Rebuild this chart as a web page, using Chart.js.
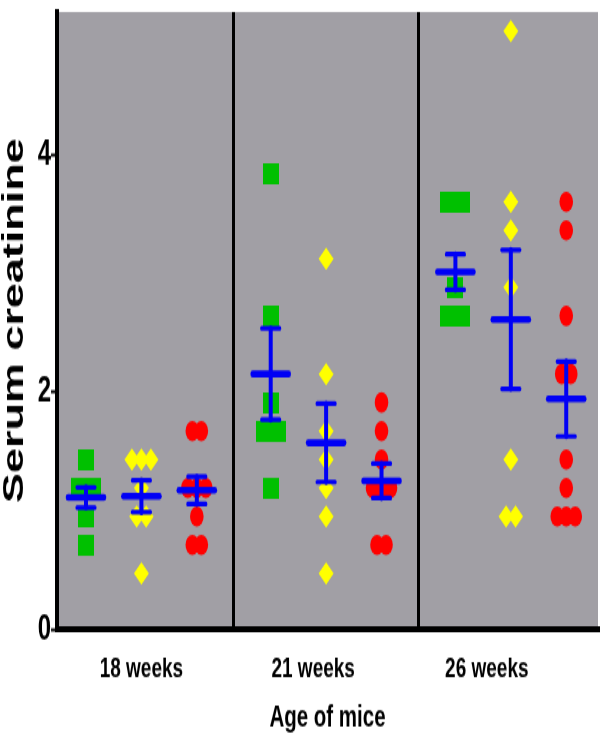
<!DOCTYPE html>
<html>
<head>
<meta charset="utf-8">
<script src="https://cdn.jsdelivr.net/npm/chart.js@4/dist/chart.umd.min.js"></script>
<style>
  html, body { margin: 0; padding: 0; background: #fff; }
</style>
</head>
<body>
<!-- the original figure is stretched vertically, so the canvas is drawn at 600x500 and shown at 600x749 -->
<canvas id="chart" width="600" height="500" style="display:block;width:600px;height:749px"></canvas>
<script>
var weeks = ['18 weeks', '21 weeks', '26 weeks'];

var greenValues = [
    [1.43, 1.19, 1.19, 0.95, 0.71],
    [3.84, 2.64, 1.91, 1.67, 1.67, 1.19],
    [3.60, 3.60, 2.88, 2.64, 2.64]
];
var yellowValues = [
    [1.43, 1.43, 1.43, 1.19, 0.95, 0.95, 0.47],
    [3.12, 2.15, 1.67, 1.43, 1.19, 0.95, 0.47],
    [5.04, 3.60, 3.36, 2.88, 1.43, 0.95, 0.95]
];
var redValues = [
    [1.67, 1.67, 1.19, 1.19, 1.19, 0.95, 0.71, 0.71],
    [1.91, 1.67, 1.43, 1.19, 1.19, 1.19, 0.71, 0.71],
    [3.60, 3.36, 2.64, 2.15, 2.15, 1.43, 1.19, 0.95, 0.95, 0.95]
];

// mean and SEM drawn in blue
var greenMean = [1.11, 2.15, 3.01];
var greenSem = [0.085, 0.385, 0.15];
var yellowMean = [1.12, 1.57, 2.61];
var yellowSem = [0.135, 0.33, 0.585];
var redMean = [1.17, 1.25, 1.94];
var redSem = [0.115, 0.145, 0.315];

var yTicks = [0, 2, 4];

// x layout: group g, column c sits at g + c*colGap
var colGap = 0.3;
var sepPos = 0.8;
var labelAt = [0.3, 1.23, 2.17];
var xMin = -0.157, xMax = 2.772;
var pxPerUnit = 541 / (xMax - xMin);

function jitter(values, stepPx) {
    var counts = {}, seen = {};
    values.forEach(function (v) { counts[v] = (counts[v] || 0) + 1; });
    return values.map(function (v) {
        seen[v] = seen[v] === undefined ? 0 : seen[v] + 1;
        return (seen[v] - (counts[v] - 1) / 2) * stepPx / pxPerUnit;
    });
}

function points(groups, col, stepPx) {
    var out = [];
    groups.forEach(function (vals, g) {
        var off = jitter(vals, stepPx);
        vals.forEach(function (v, i) {
            out.push({x: g + col * colGap + off[i], y: v});
        });
    });
    return out;
}

function box(w, h, color) {
    var c = document.createElement('canvas');
    c.width = w; c.height = h;
    var g = c.getContext('2d');
    g.fillStyle = color;
    g.fillRect(0, 0, w, h);
    return c;
}

var plotBg = {
    id: 'plotBg',
    beforeDraw: function (chart) {
        var a = chart.chartArea, ctx = chart.ctx;
        ctx.save();
        ctx.fillStyle = '#a19fa5';
        ctx.fillRect(a.left, a.top, a.right - a.left, a.bottom - a.top);
        ctx.restore();
    }
};

var meanSem = {
    id: 'meanSem',
    afterDatasetsDraw: function (chart) {
        var xs = chart.scales.x, ys = chart.scales.y, ctx = chart.ctx;
        var sets = [[greenMean, greenSem], [yellowMean, yellowSem], [redMean, redSem]];
        ctx.save();
        ctx.strokeStyle = '#0000f5';
        ctx.lineCap = 'round';
        sets.forEach(function (s, col) {
            s[0].forEach(function (m, g) {
                var x = xs.getPixelForValue(g + col * colGap);
                var ym = ys.getPixelForValue(m);
                var yt = ys.getPixelForValue(m + s[1][g]);
                var yb = ys.getPixelForValue(m - s[1][g]);
                ctx.lineWidth = 4;
                ctx.beginPath(); ctx.moveTo(x, yt); ctx.lineTo(x, yb); ctx.stroke();
                ctx.lineWidth = 3.2;
                ctx.beginPath();
                ctx.moveTo(x - 9, yt); ctx.lineTo(x + 9, yt);
                ctx.moveTo(x - 9, yb); ctx.lineTo(x + 9, yb);
                ctx.stroke();
                ctx.lineWidth = 4.6;
                ctx.beginPath(); ctx.moveTo(x - 18, ym); ctx.lineTo(x + 18, ym); ctx.stroke();
            });
        });
        ctx.restore();
    }
};

var font = "'Liberation Sans', Arial, sans-serif";

new Chart(document.getElementById('chart'), {
    type: 'scatter',
    data: {
        datasets: [{
            data: points(greenValues, 0, 14),
            pointStyle: box(16, 14, '#00c000'),
            pointRadius: 8,
            borderWidth: 0
        }, {
            data: points(yellowValues, 1, 9.5),
            pointStyle: 'rectRot',
            pointRadius: 7.5,
            backgroundColor: '#ffff00',
            borderWidth: 0
        }, {
            data: points(redValues, 2, 9),
            pointStyle: 'circle',
            pointRadius: 6.8,
            backgroundColor: '#ff0000',
            borderWidth: 0
        }]
    },
    options: {
        responsive: false,
        animation: false,
        devicePixelRatio: 1,
        events: [],
        layout: {
            autoPadding: false,
            padding: { top: 8, right: 2, left: 0, bottom: 0 }
        },
        plugins: {
            legend: { display: false },
            tooltip: { enabled: false }
        },
        scales: {
            x: {
                type: 'linear',
                min: xMin,
                max: xMax,
                afterFit: function (s) {
                    s.height = 80;
                    s.paddingLeft = 0;
                    s.paddingRight = 0;
                },
                afterBuildTicks: function (s) {
                    var t = [];
                    weeks.forEach(function (w, g) {
                        t.push({value: labelAt[g]});
                        if (g < weeks.length - 1) t.push({value: g + sepPos});
                    });
                    s.ticks = t;
                },
                ticks: {
                    autoSkip: false,
                    maxRotation: 0,
                    padding: 15,
                    color: '#000',
                    font: { family: font, size: 19, weight: 'bold' },
                    callback: function (v, i) { return i % 2 === 0 ? weeks[i / 2] : ''; }
                },
                grid: {
                    drawTicks: false,
                    lineWidth: 3,
                    color: function (c) { return c.index % 2 === 1 ? '#000' : 'rgba(0,0,0,0)'; }
                },
                border: { display: true, color: '#000', width: 4 },
                title: {
                    display: true,
                    text: 'Age of mice',
                    color: '#000',
                    font: { family: font, size: 20.5, weight: 'bold' },
                    padding: { top: 0, bottom: 8 }
                }
            },
            y: {
                min: 0,
                max: 5.2,
                afterFit: function (s) {
                    s.width = 57;
                    s.paddingTop = 0;
                    s.paddingBottom = 0;
                },
                afterBuildTicks: function (s) {
                    s.ticks = yTicks.map(function (v) { return {value: v}; });
                },
                ticks: {
                    padding: 0,
                    color: '#000',
                    font: { family: font, size: 24, weight: 'bold' }
                },
                grid: {
                    drawOnChartArea: false,
                    drawTicks: true,
                    tickLength: 6,
                    tickWidth: 2,
                    tickColor: '#000'
                },
                border: { display: true, color: '#000', width: 4 },
                title: {
                    display: true,
                    text: 'Serum creatinine',
                    color: '#000',
                    font: { family: font, size: 30, weight: 'bold', lineHeight: 1 },
                    padding: { top: 0, bottom: 0 }
                }
            }
        }
    },
    plugins: [plotBg, meanSem]
});
</script>
</body>
</html>
